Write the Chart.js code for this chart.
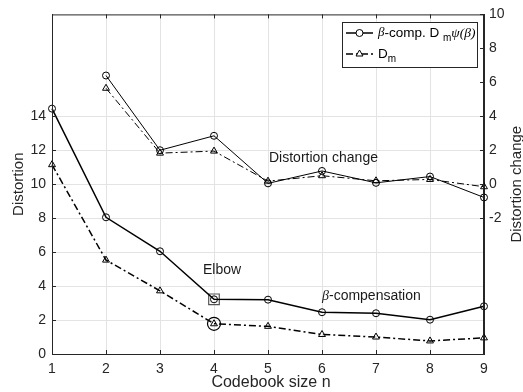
<!DOCTYPE html>
<html>
<head>
<meta charset="utf-8">
<script src="https://cdn.jsdelivr.net/npm/chart.js@4/dist/chart.umd.min.js"></script>
<style>
  html, body { margin: 0; padding: 0; background: #fff; }
  #wrap { width: 523px; height: 392px; }
</style>
</head>
<body>
<div id="wrap"><canvas id="myChart" width="523" height="392"></canvas></div>
<script>
// codebook sizes and distortion values
const codebookSize = [1, 2, 3, 4, 5, 6, 7, 8, 9];
const distortionComp = [14.45, 8.05, 6.05, 3.22, 3.2, 2.46, 2.4, 2.02, 2.81];
const distortionDm = [11.15, 5.53, 3.72, 1.78, 1.63, 1.15, 1.0, 0.77, 0.95];

// distortion change (right axis), starts at n = 2
const changeSize = [2, 3, 4, 5, 6, 7, 8, 9];
const changeComp = [6.4, 2.0, 2.85, 0.05, 0.78, 0.08, 0.45, -0.78];
const changeDm = [5.65, 1.83, 1.95, 0.18, 0.5, 0.2, 0.28, -0.15];

// elbow markers
const elbowSize = [4];
const elbowComp = [3.22];
const elbowDm = [1.78];

const axisColor = '#262626';
const dashDot = [7, 3, 2, 3];

function pts(xs, ys) {
  return xs.map((x, i) => ({ x: x, y: ys[i] }));
}

function serie(label, data, axis, style, width, dash) {
  return {
    label: label,
    data: data,
    yAxisID: axis,
    borderColor: '#000',
    backgroundColor: 'transparent',
    borderWidth: width,
    borderDash: dash,
    pointStyle: style,
    pointRadius: style == 'triangle' ? 4 : 3.5,
    pointBorderWidth: 1,
    pointBorderColor: '#000',
    pointBackgroundColor: 'transparent',
    tension: 0,
    clip: false
  };
}

const extras = {
  id: 'extras',
  afterDraw(chart) {
    const ctx = chart.ctx;
    const a = chart.chartArea;
    const xs = chart.scales.x, yl = chart.scales.y, yr = chart.scales.y2;
    ctx.save();

    // box + inward ticks
    ctx.strokeStyle = axisColor;
    ctx.lineWidth = 1;
    ctx.strokeRect(a.left + 0.5, a.top + 0.5, a.right - a.left - 1, a.bottom - a.top);
    ctx.beginPath();
    codebookSize.forEach(v => {
      const px = Math.round(xs.getPixelForValue(v)) + 0.5;
      ctx.moveTo(px, a.bottom); ctx.lineTo(px, a.bottom - 4);
      ctx.moveTo(px, a.top); ctx.lineTo(px, a.top + 4);
    });
    yl.ticks.forEach(t => {
      const py = Math.round(yl.getPixelForValue(t.value)) + 0.5;
      ctx.moveTo(a.left, py); ctx.lineTo(a.left + 4, py);
    });
    yr.ticks.forEach(t => {
      const py = Math.round(yr.getPixelForValue(t.value)) + 0.5;
      ctx.moveTo(a.right, py); ctx.lineTo(a.right - 4, py);
    });
    ctx.stroke();

    // axis titles
    ctx.fillStyle = axisColor;
    ctx.font = '15px "Liberation Sans", Arial, sans-serif';
    ctx.textAlign = 'center';
    ctx.textBaseline = 'middle';
    const cy = (a.top + a.bottom) / 2;
    ctx.save();
    ctx.translate(19, cy);
    ctx.rotate(-Math.PI / 2);
    ctx.fillText('Distortion', 0, 0);
    ctx.restore();
    ctx.save();
    ctx.translate(517, cy);
    ctx.rotate(-Math.PI / 2);
    ctx.fillText('Distortion change', 0, 0);
    ctx.restore();
    ctx.font = '16px "Liberation Sans", Arial, sans-serif';
    ctx.fillText('Codebook size n', (a.left + a.right) / 2 + 3, 383);

    // annotations
    ctx.fillStyle = '#1a1a1a';
    ctx.font = '14px "Liberation Sans", Arial, sans-serif';
    ctx.textAlign = 'left';
    ctx.fillText('Elbow', 203, 270);
    ctx.fillText('Distortion change', 269, 158);
    ctx.font = 'italic 14px "Liberation Serif", serif';
    ctx.fillText('\u03B2', 322, 296);
    const bw = ctx.measureText('\u03B2').width;
    ctx.font = '14px "Liberation Sans", Arial, sans-serif';
    ctx.fillText('-compensation', 322 + bw, 296);

    // legend
    const lx = 342, ly = 22, lw = 135, lh = 45;
    ctx.fillStyle = '#fff';
    ctx.fillRect(lx, ly, lw, lh);
    ctx.strokeStyle = axisColor;
    ctx.strokeRect(lx + 0.5, ly + 0.5, lw, lh);

    const rows = [{ y: 33, ds: chart.data.datasets[0] }, { y: 54, ds: chart.data.datasets[1] }];
    rows.forEach(r => {
      ctx.strokeStyle = '#000';
      ctx.lineWidth = r.ds.borderWidth;
      ctx.setLineDash(r.ds.borderDash || []);
      ctx.beginPath();
      ctx.moveTo(346, r.y); ctx.lineTo(373, r.y);
      ctx.stroke();
      ctx.setLineDash([]);
      ctx.lineWidth = 1;
      Chart.helpers.drawPoint(ctx, { pointStyle: r.ds.pointStyle, radius: r.ds.pointRadius, borderWidth: 1 }, 359.5, r.y);
    });

    ctx.fillStyle = '#000';
    ctx.textBaseline = 'middle';
    let x = 378;
    ctx.font = 'italic 13px "Liberation Serif", serif';
    ctx.fillText('\u03B2', x, 33); x += ctx.measureText('\u03B2').width;
    ctx.font = '13.5px "Liberation Sans", Arial, sans-serif';
    ctx.fillText('-comp. D ', x, 33); x += ctx.measureText('-comp. D ').width;
    ctx.font = '10px "Liberation Sans", Arial, sans-serif';
    ctx.fillText('m', x, 38); x += ctx.measureText('m').width;
    ctx.font = 'italic 13.5px "Liberation Serif", serif';
    ctx.fillText('\u03C8(\u03B2)', x, 33);

    x = 378;
    ctx.font = '13.5px "Liberation Sans", Arial, sans-serif';
    ctx.fillText('D', x, 54); x += ctx.measureText('D').width;
    ctx.font = '10px "Liberation Sans", Arial, sans-serif';
    ctx.fillText('m', x, 59);

    ctx.restore();
  }
};

const tickFont = { family: '"Liberation Sans", Arial, sans-serif', size: 14 };

const myChart = new Chart('myChart', {
  type: 'line',
  data: {
    datasets: [
      serie('\u03B2-comp. D m\u03C8(\u03B2)', pts(codebookSize, distortionComp), 'y', 'circle', 1.5),
      serie('D m', pts(codebookSize, distortionDm), 'y', 'triangle', 1.5, dashDot),
      serie('change comp', pts(changeSize, changeComp), 'y2', 'circle', 1),
      serie('change Dm', pts(changeSize, changeDm), 'y2', 'triangle', 1, dashDot),
      {
        label: 'elbow comp',
        data: pts(elbowSize, elbowComp),
        yAxisID: 'y',
        showLine: false,
        pointStyle: 'rect',
        pointRadius: 7.5,
        pointBorderWidth: 1.2,
        pointBorderColor: '#555',
        pointBackgroundColor: 'transparent',
        clip: false
      },
      {
        label: 'elbow Dm',
        data: pts(elbowSize, elbowDm),
        yAxisID: 'y',
        showLine: false,
        pointStyle: 'circle',
        pointRadius: 6.5,
        pointBorderWidth: 1.2,
        pointBorderColor: '#000',
        pointBackgroundColor: 'transparent',
        clip: false
      }
    ]
  },
  options: {
    responsive: false,
    animation: false,
    layout: { padding: { top: 12, left: 0, right: 0, bottom: 0 } },
    plugins: {
      legend: { display: false },
      tooltip: { enabled: false }
    },
    scales: {
      x: {
        type: 'linear',
        min: 1,
        max: 9,
        ticks: { stepSize: 1, color: axisColor, font: tickFont, padding: 7 },
        grid: { color: '#e3e3e3', drawTicks: false },
        border: { color: axisColor },
        afterFit: s => { s.height = 38; }
      },
      y: {
        position: 'left',
        min: 0,
        max: 20,
        ticks: { stepSize: 2, color: axisColor, font: tickFont, padding: 6 },
        afterBuildTicks: s => { s.ticks = s.ticks.filter(t => t.value <= 14); },
        grid: { color: '#e3e3e3', drawTicks: false },
        border: { color: axisColor },
        afterFit: s => { s.width = 52; }
      },
      y2: {
        position: 'right',
        min: -10,
        max: 10,
        ticks: { stepSize: 2, color: axisColor, font: tickFont, padding: 5 },
        afterBuildTicks: s => { s.ticks = s.ticks.filter(t => t.value >= -2); },
        grid: { drawOnChartArea: false, drawTicks: false },
        border: { color: axisColor },
        afterFit: s => { s.width = 39; }
      }
    }
  },
  plugins: [extras]
});
</script>
</body>
</html>
